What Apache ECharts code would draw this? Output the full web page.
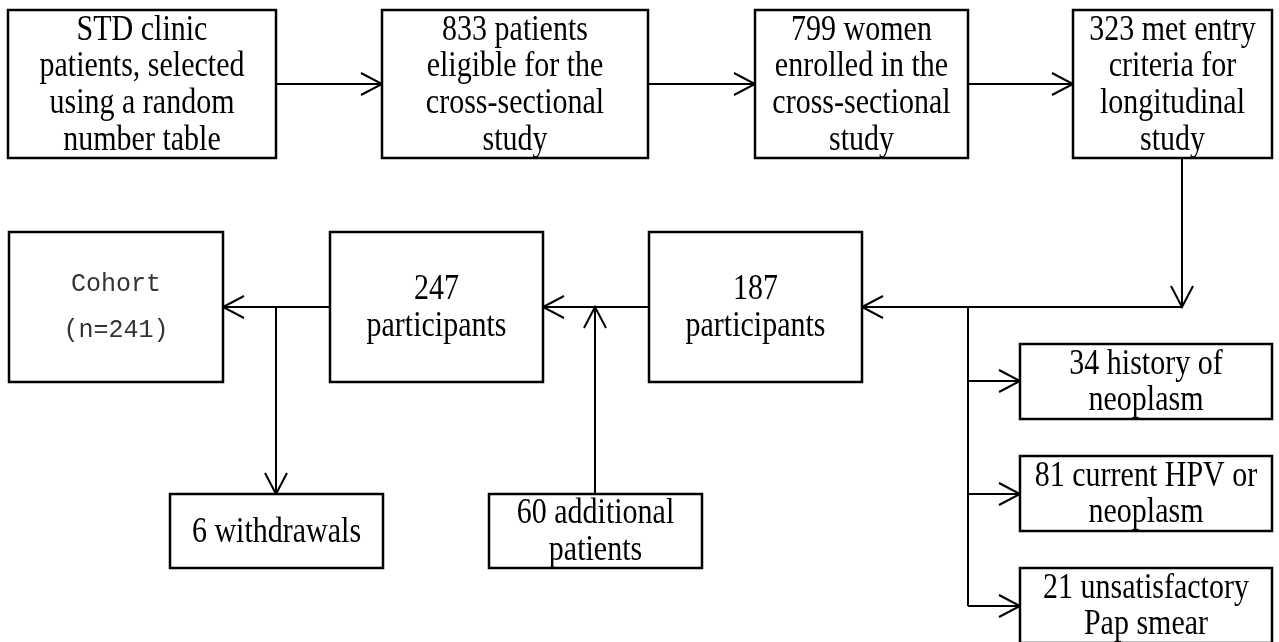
<!DOCTYPE html>
<html>
<head>
<meta charset="utf-8">
<script src="https://cdn.jsdelivr.net/npm/echarts@6/dist/echarts.min.js"></script>
<style>
html, body { margin: 0; padding: 0; background: #fff; }
#chart { width: 1279px; height: 642px; }
</style>
</head>
<body>
<div id="chart"></div>
<script>
// box texts (flow of the study)
var boxLabels = [
	'STD clinic\npatients, selected\nusing a random\nnumber table',
	'833 patients\neligible for the\ncross-sectional\nstudy',
	'799 women\nenrolled in the\ncross-sectional\nstudy',
	'323 met entry\ncriteria for\nlongitudinal\nstudy',
	'187\nparticipants',
	'247\nparticipants',
	'Cohort\n(n=241)',
	'6 withdrawals',
	'60 additional\npatients',
	'34 history of\nneoplasm',
	'81 current HPV or\nneoplasm',
	'21 unsatisfactory\nPap smear'
];
// box corners in diagram units
var boxX0 = [8, 382, 755, 1073, 649, 330, 9, 170, 489, 1020, 1020, 1020];
var boxY0 = [10, 10, 10, 10, 232, 232, 232, 494, 494, 344, 456, 568];
var boxX1 = [276, 648, 968, 1272, 862, 543, 223, 383, 702, 1272, 1272, 1272];
var boxY1 = [158, 158, 158, 158, 382, 382, 382, 568, 568, 419, 531, 643];
var monoBox = [6];

// connectors: [x1, y1, x2, y2, arrow at end]
var links = [
	[276, 84, 382, 84, 1],
	[648, 84, 755, 84, 1],
	[968, 84, 1073, 84, 1],
	[1182, 158, 1182, 307, 1],
	[1182, 307, 862, 307, 1],
	[649, 307, 543, 307, 1],
	[330, 307, 223, 307, 1],
	[276, 307, 276, 494, 1],
	[595, 494, 595, 307, 1],
	[968, 307, 968, 606, 0],
	[968, 381, 1020, 381, 1],
	[968, 494, 1020, 494, 1],
	[968, 606, 1020, 606, 1]
];

var boxData = [];
for (var i = 0; i < boxLabels.length; i++) {
	boxData.push([boxX0[i], boxY0[i], boxX1[i], boxY1[i], i]);
}

var myChart = echarts.init(document.getElementById('chart'));
var option = {
	animation: false,
	backgroundColor: '#fff',
	grid: { left: 0, right: 0, top: 0, bottom: 0 },
	xAxis: { type: 'value', min: 0, max: 1279, show: false },
	yAxis: { type: 'value', min: 0, max: 642, inverse: true, show: false },
	series: [
		{
			type: 'custom',
			coordinateSystem: 'cartesian2d',
			data: links,
			renderItem: function (params, api) {
				var a = api.coord([api.value(0), api.value(1)]);
				var b = api.coord([api.value(2), api.value(3)]);
				var children = [{
					type: 'line',
					shape: { x1: a[0], y1: a[1], x2: b[0], y2: b[1] },
					style: { stroke: '#000', lineWidth: 2 }
				}];
				if (api.value(4)) {
					var dx = b[0] - a[0], dy = b[1] - a[1];
					var len = Math.sqrt(dx * dx + dy * dy);
					dx /= len; dy /= len;
					var L = 21, W = 11;
					children.push({
						type: 'polyline',
						shape: { points: [
							[b[0] - dx * L - dy * W, b[1] - dy * L + dx * W],
							[b[0], b[1]],
							[b[0] - dx * L + dy * W, b[1] - dy * L - dx * W]
						] },
						style: { stroke: '#000', lineWidth: 2, fill: null }
					});
				}
				return { type: 'group', children: children };
			}
		},
		{
			type: 'custom',
			coordinateSystem: 'cartesian2d',
			data: boxData,
			renderItem: function (params, api) {
				var p0 = api.coord([api.value(0), api.value(1)]);
				var p1 = api.coord([api.value(2), api.value(3)]);
				var idx = api.value(4);
				var mono = monoBox.indexOf(idx) >= 0;
				var cx = (p0[0] + p1[0]) / 2, cy = (p0[1] + p1[1]) / 2;
				return {
					type: 'group',
					children: [
						{
							type: 'rect',
							shape: { x: p0[0], y: p0[1], width: p1[0] - p0[0], height: p1[1] - p0[1] },
							style: { fill: '#fff', stroke: '#000', lineWidth: 2.5 }
						},
						{
							type: 'text',
							x: cx,
							y: cy + (mono ? 0 : 1),
							scaleY: mono ? 1 : 1.22,
							style: {
								text: boxLabels[idx],
								x: 0,
								y: 0,
								align: 'center',
								verticalAlign: 'middle',
								fill: mono ? '#333' : '#000',
								font: mono ? '25px "Liberation Mono"' : '30px "Liberation Serif"',
								lineHeight: mono ? 46 : 30
							}
						}
					]
				};
			}
		}
	]
};
myChart.setOption(option);
</script>
</body>
</html>
